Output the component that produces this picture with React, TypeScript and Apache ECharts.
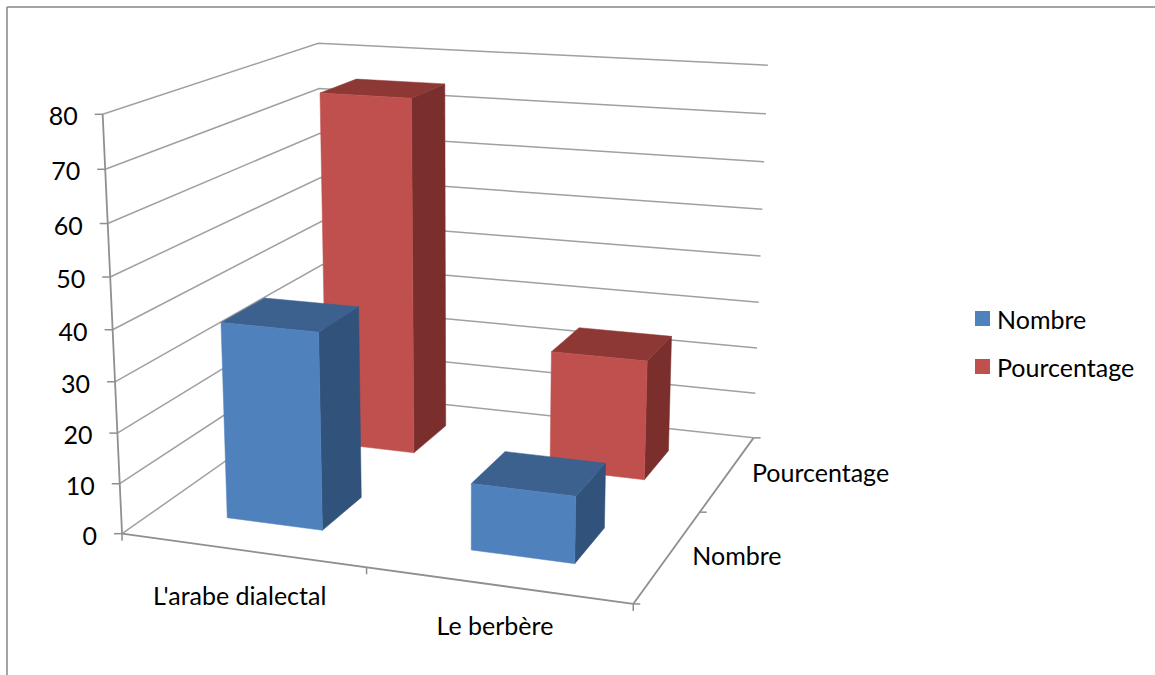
import React, { useEffect, useRef } from "react";
import * as echarts from "echarts";

const categories = ["L'arabe dialectal", "Le berbère"];
const seriesNames = ["Nombre", "Pourcentage"];
const nombreValues = [39, 13];
const pourcentageValues = [75, 25];
const valueTicks = [0, 10, 20, 30, 40, 50, 60, 70, 80];

const FONT = "Lato, 'Noto Sans', sans-serif";
const FONT_SIZE = 25;
const GRID_SIZE = 500;
const GAP_RATIO = 1 / 2.5; // bar width as a share of its cell (gap 150 %)

const LINE = "#A0A0A0";
const AXIS = "#8F8F8F";
const BLUE = { front: "#4F81BD", side: "#31527A", top: "#3C618F" };
const RED = { front: "#C0504D", side: "#7A2F2D", top: "#8E3836" };

// Camera calibration: box corners (u, v, w) -> page pixels.
const anchors: number[][] = [
  [0, 0, 0, 121, 535],
  [1, 0, 0, 632, 604],
  [1, 1, 0, 753, 437],
  [0, 1, 0, 327, 391],
  [0, 0, 1, 105, 113],
  [0, 1, 1, 315, 44],
  [1, 1, 1, 769, 66],
  [0, 0, 0.5, 113, 329],
  [1, 1, 0.5, 761, 256],
  [0.5, 0, 0, 366, 568],
  [1, 0.5, 0, 700, 512],
];

function solveCamera(): number[] {
  const n = 11;
  const A: number[][] = Array.from({ length: n }, () => new Array(n + 1).fill(0));
  const add = (row: number[], rhs: number) => {
    for (let i = 0; i < n; i++) {
      for (let j = 0; j < n; j++) A[i][j] += row[i] * row[j];
      A[i][n] += row[i] * rhs;
    }
  };
  for (const [u, v, w, x, y] of anchors) {
    add([u, v, w, 1, 0, 0, 0, 0, -x * u, -x * v, -x * w], x);
    add([0, 0, 0, 0, u, v, w, 1, -y * u, -y * v, -y * w], y);
  }
  for (let c = 0; c < n; c++) {
    let p = c;
    for (let r = c + 1; r < n; r++) if (Math.abs(A[r][c]) > Math.abs(A[p][c])) p = r;
    [A[c], A[p]] = [A[p], A[c]];
    for (let r = 0; r < n; r++) {
      if (r === c) continue;
      const f = A[r][c] / A[c][c];
      for (let k = c; k <= n; k++) A[r][k] -= f * A[c][k];
    }
  }
  return A.map((row, i) => row[n] / row[i]);
}

const cam = solveCamera();
const project = (u: number, v: number, w: number): number[] => {
  const d = cam[8] * u + cam[9] * v + cam[10] * w + 1;
  return [
    (cam[0] * u + cam[1] * v + cam[2] * w + cam[3]) / d,
    (cam[4] * u + cam[5] * v + cam[6] * w + cam[7]) / d,
  ];
};

const line = (pts: number[][], stroke = LINE, lineWidth = 1.5) => ({
  type: "polyline",
  shape: { points: pts },
  style: { stroke, lineWidth, fill: "none" },
  silent: true,
});

const label = (text: string, x: number, y: number, align: string) => ({
  type: "text",
  x,
  y,
  style: {
    text,
    fill: "#000000",
    fontFamily: FONT,
    fontSize: FONT_SIZE,
    align,
    verticalAlign: "middle",
  },
});

const barRenderer = (depthIndex: number, colors: typeof BLUE) => (_: any, api: any) => {
  const c = api.coord([api.value(0), api.value(1)]);
  const band = api.size([1, 0])[0] / GRID_SIZE;
  const uc = c[0] / GRID_SIZE;
  const w = (GRID_SIZE - c[1]) / GRID_SIZE;
  const half = (band * GAP_RATIO) / 2;
  const vc = (depthIndex + 0.5) / seriesNames.length;
  const u0 = uc - half;
  const u1 = uc + half;
  const v0 = vc - half;
  const v1 = vc + half;
  const poly = (pts: number[][], fill: string) => ({
    type: "polygon",
    shape: { points: pts },
    style: { fill, stroke: fill, lineWidth: 0.5 },
  });
  return {
    type: "group",
    children: [
      poly([project(u1, v0, 0), project(u1, v1, 0), project(u1, v1, w), project(u1, v0, w)], colors.side),
      poly([project(u0, v0, w), project(u1, v0, w), project(u1, v1, w), project(u0, v1, w)], colors.top),
      poly([project(u0, v0, 0), project(u1, v0, 0), project(u1, v0, w), project(u0, v0, w)], colors.front),
    ],
  };
};

const gridRenderer = (_: any, api: any) => {
  const tick = api.value(1);
  const w = (GRID_SIZE - api.coord([0, tick])[1]) / GRID_SIZE;
  const a = project(0, 0, w);
  return {
    type: "group",
    children: [
      line([a, project(0, 1, w), project(1, 1, w)]),
      line([[a[0] - 8, a[1]], a], AXIS),
      label(String(tick), a[0] - 25, a[1] + 1, "right"),
    ],
  };
};

const frameRenderer = () => {
  const A = project(0, 0, 0);
  const B = project(1, 0, 0);
  const C = project(1, 1, 0);
  const E = project(0, 0, 1);
  const midU = project(0.5, 0, 0);
  const midV = project(1, 0.5, 0);
  const tickDown = (p: number[]) => line([p, [p[0], p[1] + 7]], AXIS);
  const tickRight = (p: number[]) => line([p, [p[0] + 7, p[1]]], AXIS);
  return {
    type: "group",
    children: [
      line([E, A], AXIS, 1.8),
      line([A, B], AXIS, 1.8),
      line([B, C], AXIS, 1.8),
      tickDown(A),
      tickDown(midU),
      tickDown(B),
      tickRight(B),
      tickRight(midV),
      tickRight(C),
    ],
  };
};

const categoryLabelDrop = [45, 40];

const categoryLabelRenderer = (_: any, api: any) => {
  const i = api.value(0);
  const p = project(api.coord([i, 0])[0] / GRID_SIZE, 0, 0);
  return label(categories[i], p[0] - 2, p[1] + categoryLabelDrop[i], "center");
};

const depthLabelRenderer = (params: any) => {
  const i = params.dataIndex;
  const p = project(1, (i + 0.5) / seriesNames.length, 0);
  return label(seriesNames[i], p[0] + 24, p[1] - 1, "left");
};

export default function App() {
  const ref = useRef<HTMLDivElement>(null);
  useEffect(() => {
    const chart = echarts.init(ref.current!, undefined, { renderer: "svg" });
    chart.setOption({
      animation: false,
      backgroundColor: "#FFFFFF",
      grid: { left: 0, top: 0, width: GRID_SIZE, height: GRID_SIZE, show: false },
      xAxis: { type: "category", data: categories, show: false },
      yAxis: { type: "value", min: 0, max: 80, interval: 10, show: false },
      legend: {
        data: ["Nombre", "Pourcentage"],
        orient: "vertical",
        left: 975,
        top: 306,
        padding: 0,
        icon: "rect",
        itemWidth: 15,
        itemHeight: 15,
        itemGap: 23,
        selectedMode: false,
        textStyle: { fontFamily: FONT, fontSize: FONT_SIZE, color: "#000000", padding: [0, 0, 0, 2] },
      },
      graphic: [
        { type: "line", shape: { x1: 7, y1: 7, x2: 1155, y2: 7 }, style: { stroke: "#868686", lineWidth: 1.5 }, silent: true },
        { type: "line", shape: { x1: 7, y1: 7, x2: 7, y2: 675 }, style: { stroke: "#868686", lineWidth: 1.5 }, silent: true },
      ],
      series: [
        {
          type: "custom",
          name: "grid",
          renderItem: gridRenderer,
          data: valueTicks.map((t) => [0, t]),
          encode: { x: 0, y: 1 },
          silent: true,
        },
        {
          type: "custom",
          name: "frame",
          renderItem: frameRenderer,
          data: [[0, 0]],
          encode: { x: 0, y: 1 },
          silent: true,
        },
        {
          type: "custom",
          name: "categoryLabels",
          renderItem: categoryLabelRenderer,
          data: categories.map((_, i) => [i, 0]),
          encode: { x: 0, y: 1 },
          silent: true,
        },
        {
          type: "custom",
          name: "depthLabels",
          renderItem: depthLabelRenderer,
          data: seriesNames.map(() => [0, 0]),
          encode: { x: 0, y: 1 },
          silent: true,
        },
        {
          type: "custom",
          name: "Pourcentage",
          renderItem: barRenderer(1, RED),
          itemStyle: { color: RED.front },
          data: pourcentageValues.map((v, i) => [i, v]),
          encode: { x: 0, y: 1 },
        },
        {
          type: "custom",
          name: "Nombre",
          renderItem: barRenderer(0, BLUE),
          itemStyle: { color: BLUE.front },
          data: nombreValues.map((v, i) => [i, v]),
          encode: { x: 0, y: 1 },
        },
      ],
    });
    return () => chart.dispose();
  }, []);
  return (
    <div
      ref={ref}
      style={{ position: "fixed", left: 0, top: 0, width: 1155, height: 675 }}
    />
  );
}
